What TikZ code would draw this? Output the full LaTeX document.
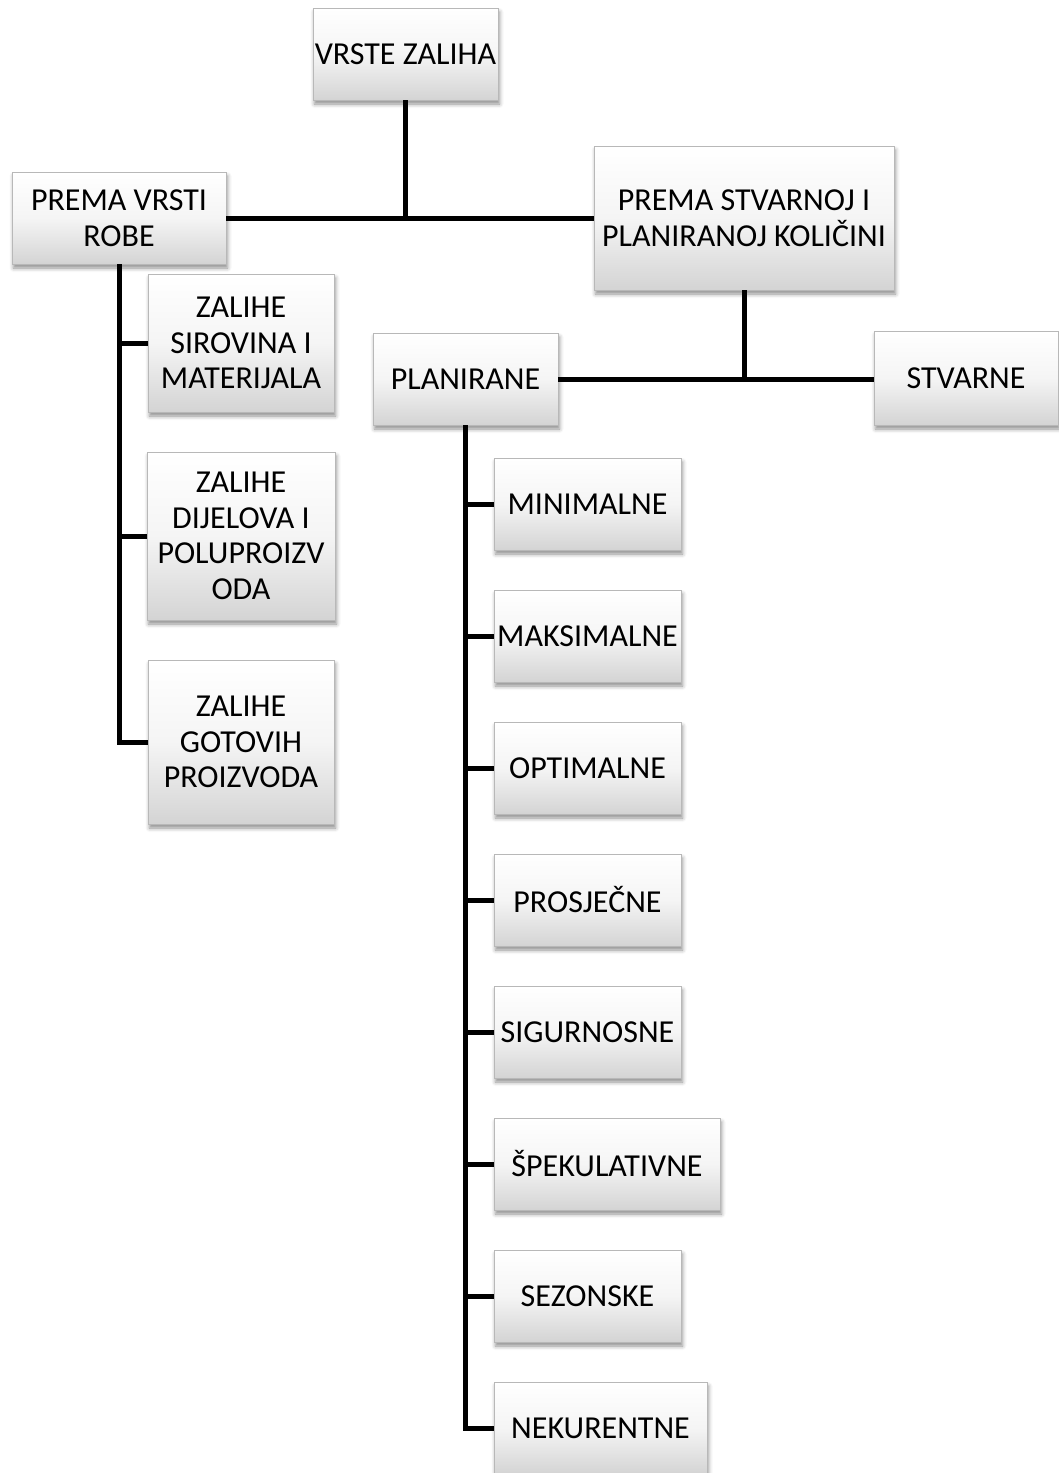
\documentclass[tikz,border=0pt]{standalone}
\usepackage{fontspec}
\setmainfont{Carlito}
\usetikzlibrary{shadows.blur}
\begin{document}
\begin{tikzpicture}[x=1pt,y=-1pt,
  box/.style={rectangle, inner sep=0pt, align=center,
    top color=white, bottom color=black!17, middle color=black!4,
    draw=black!28, line width=0.6pt,
    blur shadow={shadow xshift=1.5pt, shadow yshift=-4pt,
      shadow blur radius=4pt, shadow opacity=45},
    font=\fontsize{32}{35.5}\selectfont},
  conn/.style={line width=5pt, black}]
  \useasboundingbox (0,0) rectangle (1058,1473);

  % top level
  \node[box, minimum width=185pt, minimum height=92pt] (root) at (405.5,54) {VRSTE ZALIHA};
  \node[box, minimum width=214pt, minimum height=92pt] (byType) at (119,218) {PREMA VRSTI\\ROBE};
  \node[box, minimum width=300pt, minimum height=144pt] (byQty) at (744,218) {PREMA STVARNOJ I\\PLANIRANOJ KOLIČINI};

  % kinds of goods
  \node[box, minimum width=186pt, minimum height=138pt] (raw) at (241,343) {ZALIHE\\SIROVINA I\\MATERIJALA};
  \node[box, minimum width=188pt, minimum height=168pt] (parts) at (241,536) {ZALIHE\\DIJELOVA I\\POLUPROIZV\\ODA};
  \node[box, minimum width=186pt, minimum height=164pt] (final) at (241,742) {ZALIHE\\GOTOVIH\\PROIZVODA};

  % planned / actual
  \node[box, minimum width=185pt, minimum height=92pt] (plan) at (465.5,379) {PLANIRANE};
  \node[box, minimum width=184pt, minimum height=94pt] (actual) at (966,378) {STVARNE};

  % planned stock kinds
  \node[box, minimum width=187pt, minimum height=92pt] (p1) at (587.5,504) {MINIMALNE};
  \node[box, minimum width=187pt, minimum height=92pt] (p2) at (587.5,636) {MAKSIMALNE};
  \node[box, minimum width=187pt, minimum height=92pt] (p3) at (587.5,768) {OPTIMALNE};
  \node[box, minimum width=187pt, minimum height=92pt] (p4) at (587.5,900) {PROSJEČNE};
  \node[box, minimum width=187pt, minimum height=92pt] (p5) at (587.5,1032) {SIGURNOSNE};
  \node[box, minimum width=226pt, minimum height=92pt] (p6) at (607,1164) {ŠPEKULATIVNE};
  \node[box, minimum width=187pt, minimum height=92pt] (p7) at (587.5,1296) {SEZONSKE};
  \node[box, minimum width=213pt, minimum height=92pt] (p8) at (600.5,1428) {NEKURENTNE};

  % junction points
  \coordinate (j1) at (405,218);
  \coordinate (j2) at (744,379);

  % connectors
  \draw[conn] (root.south -| j1) -- (j1);
  \draw[conn] (byType.east) -- (byQty.west);
  \draw[conn] (byQty.south) -- (j2);
  \draw[conn] (plan.east) -- (plan.east -| actual.west);

  \draw[conn] (byType.south) |- (final.west);
  \draw[conn] (raw.west) -- (raw.west -| byType.south);
  \draw[conn] (parts.west) -- (parts.west -| byType.south);

  \draw[conn] (plan.south) |- (p8.west);
  \foreach \n in {p1,p2,p3,p4,p5,p6,p7}
    \draw[conn] (\n.west) -- (\n.west -| plan.south);
\end{tikzpicture}
\end{document}
